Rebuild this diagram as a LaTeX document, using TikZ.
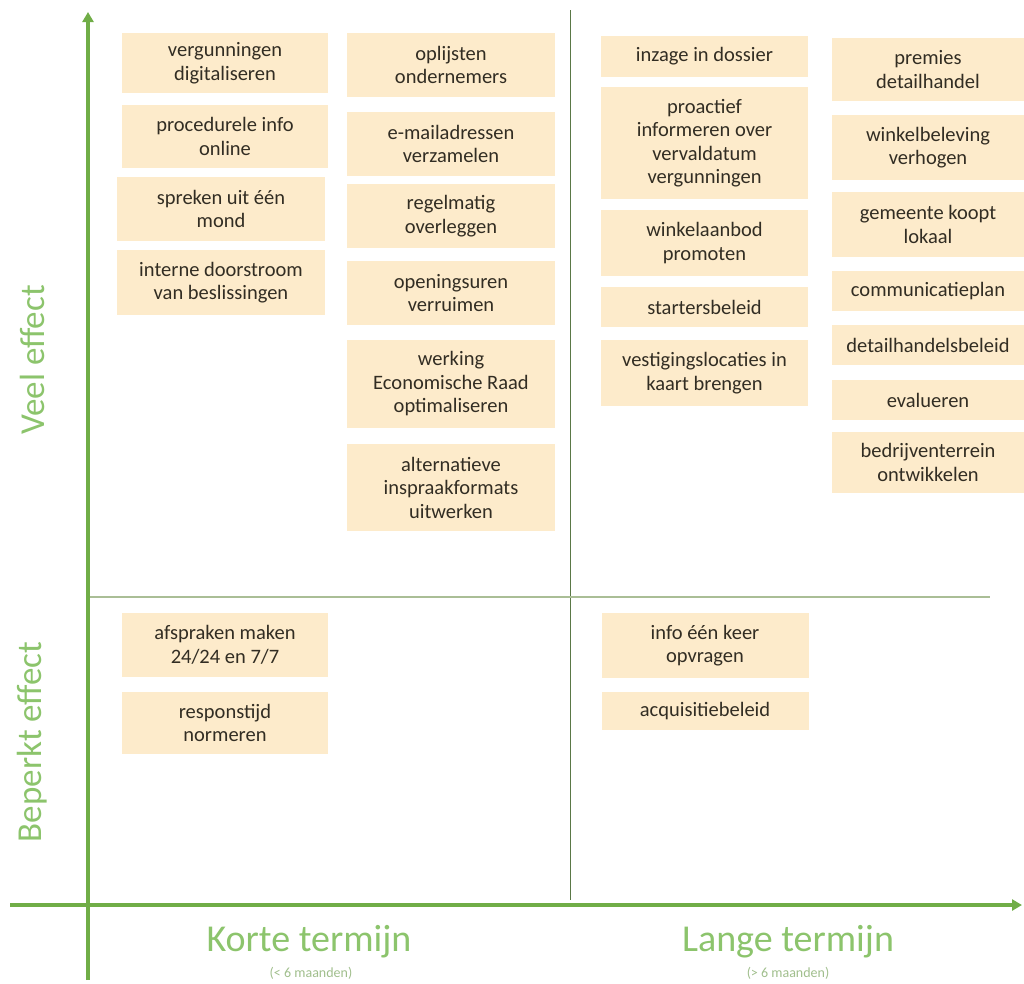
\documentclass[tikz,border=0pt]{standalone}
\usepackage{fontspec}
\setmainfont{Carlito}
\usetikzlibrary{arrows.meta}
\definecolor{axisgreen}{RGB}{112,173,71}
\definecolor{labgreen}{RGB}{140,196,108}
\definecolor{subgreen}{RGB}{160,190,140}
\definecolor{boxfill}{RGB}{253,235,203}
\definecolor{boxtext}{RGB}{50,45,35}
\definecolor{midv}{RGB}{90,120,70}
\definecolor{midh}{RGB}{170,190,150}
\begin{document}
\begin{tikzpicture}[x=1pt, y=1pt,
  bx/.style={rectangle, fill=boxfill, text=boxtext, align=center, inner sep=0pt,
    font=\fontsize{20.5}{23.5}\selectfont},
  ax/.style={axisgreen, line width=3.5pt, -{Triangle[width=11pt,length=10pt]}},
  lab/.style={text=labgreen, font=\fontsize{38}{40}\selectfont},
  vlab/.style={text=labgreen, rotate=90, font=\fontsize{35}{38}\selectfont},
  sub/.style={text=subgreen, font=\fontsize{14}{16}\selectfont}]
\useasboundingbox (0,0) rectangle (1024,-983);
% frame lines
\coordinate (o1) at (88,-980);
\coordinate (o2) at (88,-12);
\coordinate (h1) at (10,-905);
\coordinate (h2) at (1022,-905);
\coordinate (m1) at (570,-10);
\coordinate (m2) at (570,-900);
\coordinate (n1) at (90,-597);
\coordinate (n2) at (990,-597);
\draw[midv, line width=1pt] (m1) -- (m2);
\draw[midh, line width=2pt] (n1) -- (n2);
\draw[ax] (o1) -- (o2);
\draw[ax] (h1) -- (h2);
% axis labels
\node[vlab] (ve) at (32,-360) {Veel effect};
\node[vlab] (be) at (32,-742) {Beperkt effect};
\node[lab] (kt) at (309,-942) {Korte termijn};
\node[sub] (ks) at (311,-973) {(< 6 maanden)};
\node[lab] (lt) at (788,-942) {Lange termijn};
\node[sub] (ls) at (788,-973) {(> 6 maanden)};
% short term, much effect
\node[bx, minimum width=206pt, minimum height=60pt] (a1) at (225,-63) {vergunningen\\digitaliseren};
\node[bx, minimum width=206pt, minimum height=63pt] (a2) at (225,-136.5) {procedurele info\\online};
\node[bx, minimum width=208pt, minimum height=64pt] (a3) at (221,-209) {spreken uit één\\mond};
\node[bx, minimum width=208pt, minimum height=65pt] (a4) at (221,-282.5) {interne doorstroom\\van beslissingen};
\node[bx, minimum width=208pt, minimum height=64pt] (b1) at (451,-65) {oplijsten\\ondernemers};
\node[bx, minimum width=208pt, minimum height=64pt] (b2) at (451,-144) {e-mailadressen\\verzamelen};
\node[bx, minimum width=208pt, minimum height=64pt] (b3) at (451,-216) {regelmatig\\overleggen};
\node[bx, minimum width=208pt, minimum height=64pt] (b4) at (451,-293) {openingsuren\\verruimen};
\node[bx, minimum width=208pt, minimum height=88pt] (b5) at (451,-384) {werking\\Economische Raad\\optimaliseren};
\node[bx, minimum width=208pt, minimum height=87pt] (b6) at (451,-487.5) {alternatieve\\inspraakformats\\uitwerken};
% long term, much effect
\node[bx, minimum width=207pt, minimum height=41pt] (c1) at (704.5,-56.5) {inzage in dossier};
\node[bx, minimum width=207pt, minimum height=112pt] (c2) at (704.5,-143) {proactief\\informeren over\\vervaldatum\\vergunningen};
\node[bx, minimum width=207pt, minimum height=66pt] (c3) at (704.5,-243) {winkelaanbod\\promoten};
\node[bx, minimum width=207pt, minimum height=40pt] (c4) at (704.5,-307) {startersbeleid};
\node[bx, minimum width=207pt, minimum height=66pt] (c5) at (704.5,-373) {vestigingslocaties in\\kaart brengen};
\node[bx, minimum width=192pt, minimum height=63pt] (d1) at (928,-69.5) {premies\\detailhandel};
\node[bx, minimum width=192pt, minimum height=65pt] (d2) at (928,-147.5) {winkelbeleving\\verhogen};
\node[bx, minimum width=192pt, minimum height=65pt] (d3) at (928,-224.5) {gemeente koopt\\lokaal};
\node[bx, minimum width=192pt, minimum height=40pt] (d4) at (928,-291) {communicatieplan};
\node[bx, minimum width=192pt, minimum height=40pt] (d5) at (928,-345) {detailhandelsbeleid};
\node[bx, minimum width=192pt, minimum height=40pt] (d6) at (928,-400) {evalueren};
\node[bx, minimum width=192pt, minimum height=61pt] (d7) at (928,-462.5) {bedrijventerrein\\ontwikkelen};
% limited effect
\node[bx, minimum width=206pt, minimum height=64pt] (e1) at (225,-645) {afspraken maken\\24/24 en 7/7};
\node[bx, minimum width=206pt, minimum height=62pt] (e2) at (225,-723) {responstijd\\normeren};
\node[bx, minimum width=207pt, minimum height=65pt] (f1) at (705,-645.5) {info één keer\\opvragen};
\node[bx, minimum width=207pt, minimum height=38pt] (f2) at (705,-711) {acquisitiebeleid};
\end{tikzpicture}
\end{document}
